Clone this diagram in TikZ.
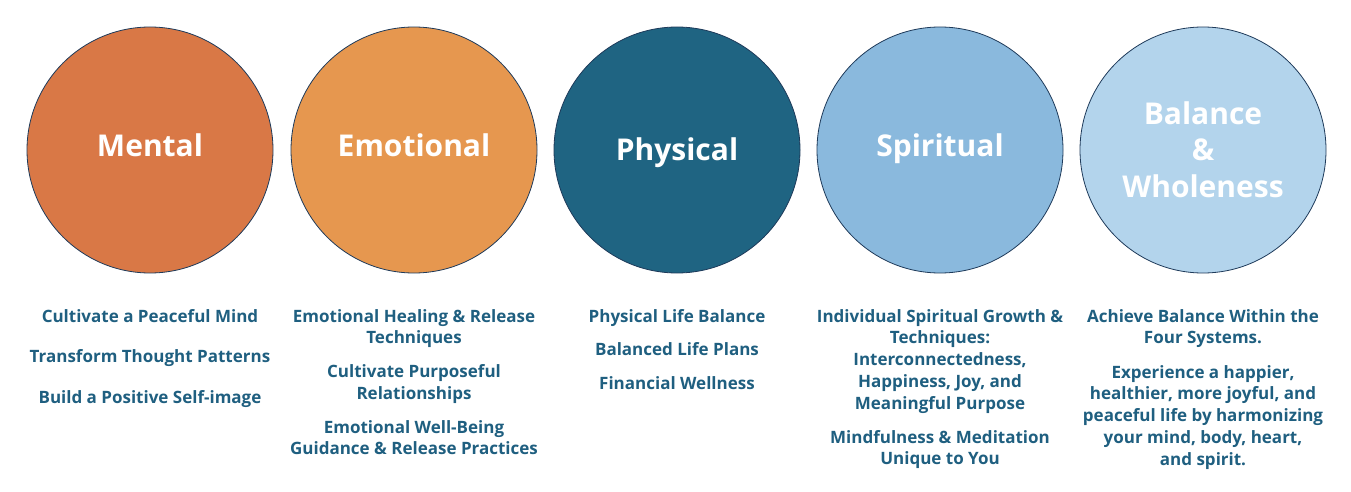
\documentclass[tikz,border=0pt]{standalone}
\usepackage{fontspec}
\setmainfont{Open Sans}
\definecolor{cMental}{HTML}{D97846}
\definecolor{cEmotional}{HTML}{E6974F}
\definecolor{cPhysical}{HTML}{1F6482}
\definecolor{cSpiritual}{HTML}{8AB9DD}
\definecolor{cBalance}{HTML}{B3D4EC}
\definecolor{cEdge}{HTML}{1E3A5A}
\definecolor{cText}{HTML}{1F5F80}
\begin{document}
\begin{tikzpicture}[x=1pt,y=-1pt,
  disc/.style={circle, draw=cEdge, line width=0.8pt, minimum size=246pt, inner sep=0pt},
  ttl/.style={text=white, font=\bfseries\fontsize{30}{36.5}\selectfont, align=center, anchor=base, inner sep=0pt},
  item/.style={text=cText, font=\bfseries\fontsize{17}{21.8}\selectfont, align=center, anchor=base, inner sep=0pt}]
\useasboundingbox[fill=white] (0,0) rectangle (1351,492);
% circles
\node[disc, fill=cMental]    (c1) at (150,150) {};
\node[disc, fill=cEmotional] (c2) at (414,150) {};
\node[disc, fill=cPhysical]  (c3) at (677,150) {};
\node[disc, fill=cSpiritual] (c4) at (940,150) {};
\node[disc, fill=cBalance]   (c5) at (1203,150) {};
% titles (base = baseline of last line)
\node[ttl] (t1) at (150,156) {Mental};
\node[ttl] (t2) at (414,156) {Emotional};
\node[ttl] (t3) at (677,160) {Physical};
\node[ttl] (t4) at (940,157) {Spiritual};
\node[ttl] (t5) at (1203,197) {Balance\\\&\\Wholeness};
% Mental
\node[item] (m1) at (150,322) {Cultivate a Peaceful Mind};
\node[item] (m2) at (150,362.5) {Transform Thought Patterns};
\node[item] (m3) at (150,403) {Build a Positive Self-image};
% Emotional
\node[item] (e1) at (414,343.8) {Emotional Healing \& Release\\Techniques};
\node[item] (e2) at (414,399.3) {Cultivate Purposeful\\Relationships};
\node[item] (e3) at (414,454.8) {Emotional Well-Being\\Guidance \& Release Practices};
% Physical
\node[item] (p1) at (677,322) {Physical Life Balance};
\node[item] (p2) at (677,355.5) {Balanced Life Plans};
\node[item] (p3) at (677,389) {Financial Wellness};
% Spiritual
\node[item] (s1) at (940,409.2) {Individual Spiritual Growth \&\\Techniques:\\Interconnectedness,\\Happiness, Joy, and\\Meaningful Purpose};
\node[item] (s2) at (940,464.8) {Mindfulness \& Meditation\\Unique to You};
% Balance
\node[item] (b1) at (1203,343.8) {Achieve Balance Within the\\Four Systems.};
\node[item] (b2) at (1203,465.2) {Experience a happier,\\healthier, more joyful, and\\peaceful life by harmonizing\\your mind, body, heart,\\and spirit.};
\end{tikzpicture}
\end{document}
